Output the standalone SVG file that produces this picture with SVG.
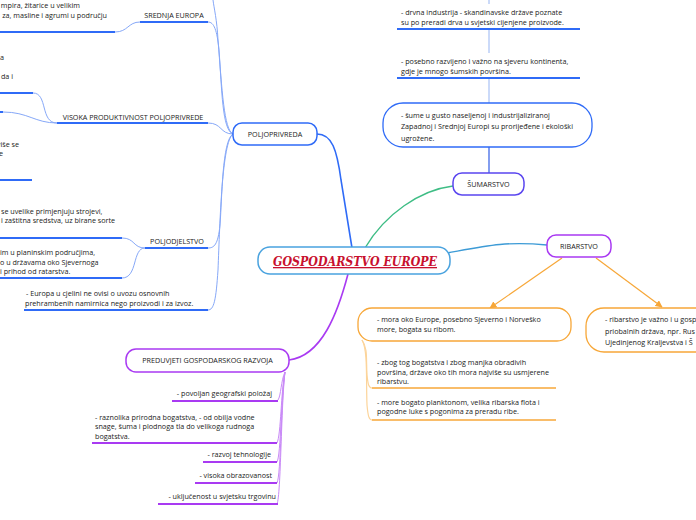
<svg xmlns="http://www.w3.org/2000/svg" width="696" height="520" viewBox="0 0 696 520">
<style>
.t{font-family:"Open Sans","Noto Sans",sans-serif;font-size:7.2px;fill:#1a1a1a}
.e{text-anchor:end}
.m{text-anchor:middle}
.ub{stroke:#2f6bf7;stroke-width:2;fill:none}
.cb{stroke:#86a8f8;stroke-width:1;fill:none}
.up{stroke:#a93af2;stroke-width:2;fill:none}
.cp{stroke:#c98af7;stroke-width:1;fill:none}
.uo{stroke:#f7a738;stroke-width:1.6;fill:none}
.co{stroke:#fcd49a;stroke-width:1.2;fill:none}
.vb{stroke:#a9c2f6;stroke-width:1.2;fill:none}
</style>
<defs>
<marker id="ao" viewBox="0 0 10 10" refX="9" refY="5" markerWidth="6" markerHeight="6" orient="auto">
<path d="M0,0 L10,5 L0,10 z" fill="#f7a738"/>
</marker>
</defs>
<rect width="696" height="520" fill="#ffffff"/>

<g id="connectors">
<path d="M317,134 C332,134 337,150 341,180 L352,248" stroke="#2f6bf7" stroke-width="1.6" fill="none"/>
<path d="M365,248 C385,214 420,190 453,186" stroke="#3ebd85" stroke-width="1.4" fill="none"/>
<path d="M447,253 C485,246 505,241 547,245" stroke="#3d9bd6" stroke-width="1.4" fill="none"/>
<path d="M348,274 C338,312 322,356 289,360" stroke="#a93af2" stroke-width="1.6" fill="none"/>
<path class="cb" d="M233,134 C224,130 222,90 218,40 C217,20 214,8 213,0"/>
<path class="cb" d="M233,134 C222,130 222,90 219,50 C217,30 214,22 208,22"/>
<path class="cb" d="M233,134 C220,134 222,123 208,123"/>
<path class="cb" d="M233,134 C222,140 222,200 220,225 C218,245 214,248 208,248"/>
<path class="cb" d="M233,134 C222,142 220,220 218,270 C216,300 214,310 208,310"/>
<path class="cb" d="M115,32 C128,32 128,22 140,22"/>
<path class="cb" d="M33,93 C48,93 40,123 57,123"/>
<path class="cb" d="M3,112 C28,112 35,123 57,123"/>
<path class="cb" d="M122,238 C135,238 133,248 145,248"/>
<path class="cb" d="M122,278 C138,278 132,248 145,248"/>
<path class="vb" d="M489,0 V4 M489,29 V53 M489,78 V103"/>
<path d="M489,147 V173" stroke="#4f74e8" stroke-width="1.4" fill="none"/>
<path d="M562,258 L490,308" stroke="#f7a738" stroke-width="1.2" fill="none" marker-end="url(#ao)"/>
<path d="M596,258 L662,307" stroke="#f7a738" stroke-width="1.2" fill="none" marker-end="url(#ao)"/>
<path class="co" d="M362,340 C368,348 366,360 367,375 C368,385 369,388 372,388"/>
<path class="co" d="M362,340 C368,350 366,380 367,405 C368,416 369,420 372,420"/>
<path class="cp" d="M285,372 C281,380 281,396 278,400"/>
<path class="cp" d="M285,372 C281,390 281,435 277,443"/>
<path class="cp" d="M285,372 C281,395 281,455 277,462"/>
<path class="cp" d="M285,372 C281,400 281,475 277,483"/>
<path class="cp" d="M285,372 C281,405 281,495 277,504"/>
</g>

<g id="central">
<rect x="258" y="247" width="192" height="27" rx="12" fill="#fff" stroke="#4aa3df" stroke-width="1.5"/>
<text x="355" y="266" text-anchor="middle" textLength="164" lengthAdjust="spacingAndGlyphs" font-family="'DejaVu Serif','Liberation Serif',serif" font-size="13" font-weight="bold" font-style="italic" text-decoration="underline" fill="#c8102e">GOSPODARSTVO EUROPE</text>
</g>

<g id="poljoprivreda">
<rect x="233" y="123" width="84" height="22" rx="9" fill="#fff" stroke="#2f6bf7" stroke-width="1.5"/>
<text class="t m" x="275" y="136.5">POLJOPRIVREDA</text>
</g>

<g id="srednja-europa">
<text class="t m" x="174" y="17.5">SREDNJA EUROPA</text>
<line class="ub" x1="140" y1="22" x2="208" y2="22"/>
</g>
<g id="srednja-child">
<text class="t e" x="80" y="7.5">mpira, žitarice u velikim</text>
<text class="t e" x="107" y="17.5">za, masline i agrumi u području</text>
<line class="ub" x1="0" y1="32" x2="115" y2="32"/>
</g>

<g id="visoka">
<text class="t m" x="133" y="119.5">VISOKA PRODUKTIVNOST POLJOPRIVREDE</text>
<line class="ub" x1="57" y1="123" x2="208" y2="123"/>
</g>
<g id="visoka-child-1">
<text class="t e" x="4" y="59.5">a</text>
<text class="t e" x="13" y="78.5">da i</text>
<line class="ub" x1="0" y1="93" x2="33" y2="93"/>
</g>
<g id="visoka-child-2">
<line class="ub" x1="0" y1="112" x2="3" y2="112"/>
</g>
<g id="left-node-3">
<text class="t e" x="19" y="146.5">više se</text>
<text class="t e" x="3" y="155.5">e</text>
<line class="ub" x1="0" y1="180" x2="32" y2="180"/>
</g>

<g id="poljodjelstvo">
<text class="t m" x="177" y="243.5">POLJODJELSTVO</text>
<line class="ub" x1="145" y1="248" x2="208" y2="248"/>
</g>
<g id="poljodjelstvo-child-1">
<text class="t" x="1" y="213.5">se uvelike primjenjuju strojevi,</text>
<text class="t" x="1" y="222.5">i zaštitna sredstva, uz birane sorte</text>
<line class="ub" x1="0" y1="238" x2="122" y2="238"/>
</g>
<g id="poljodjelstvo-child-2">
<text class="t" x="0" y="254.5">im u planinskim područjima,</text>
<text class="t" x="0" y="264.5">o u državama oko Sjevernoga</text>
<text class="t" x="0" y="273.5">i prihod od ratarstva.</text>
<line class="ub" x1="0" y1="278" x2="122" y2="278"/>
</g>

<g id="europa-cjelini">
<text class="t" x="26" y="295.5">- Europa u cjelini ne ovisi o uvozu osnovnih</text>
<text class="t" x="25" y="305.5">prehrambenih namirnica nego proizvodi i za izvoz.</text>
<line class="ub" x1="24" y1="310" x2="208" y2="310"/>
</g>

<g id="sumarstvo">
<rect x="453" y="173" width="71" height="22" rx="9" fill="#fff" stroke="#5a45ef" stroke-width="1.5"/>
<text class="t m" x="488.5" y="186.5">ŠUMARSTVO</text>
</g>
<g id="drvna">
<text class="t" x="401" y="14.5">- drvna industrija -  skandinavske države poznate</text>
<text class="t" x="401" y="24.5">su po preradi drva u svjetski cijenjene proizvode.</text>
<line class="ub" x1="397" y1="29" x2="580" y2="29"/>
</g>
<g id="posebno">
<text class="t" x="401" y="64">- posebno razvijeno i važno na sjeveru kontinenta,</text>
<text class="t" x="401" y="73.5">gdje je mnogo šumskih površina.</text>
<line class="ub" x1="397" y1="78" x2="580" y2="78"/>
</g>
<g id="sume">
<rect x="383" y="103" width="209" height="44" rx="20" fill="#fff" stroke="#2f6bf7" stroke-width="1.3"/>
<text class="t" x="401" y="117.5">- šume u gusto naseljenoj i industrijaliziranoj</text>
<text class="t" x="401" y="129">Zapadnoj i Srednjoj Europi su prorijeđene i ekološki</text>
<text class="t" x="401" y="140.5">ugrožene.</text>
</g>

<g id="ribarstvo">
<rect x="547" y="235" width="64" height="22" rx="9" fill="#fff" stroke="#a93af2" stroke-width="1.5"/>
<text class="t m" x="579" y="248.5">RIBARSTVO</text>
</g>
<g id="mora">
<rect x="358" y="308" width="213" height="33" rx="14" fill="#fff" stroke="#f7a738" stroke-width="1.3"/>
<text class="t" x="377" y="321.5">- mora oko Europe, posebno Sjeverno i Norveško</text>
<text class="t" x="377" y="332">more, bogata su ribom.</text>
</g>
<g id="ribarstvo-vazno">
<rect x="586" y="308" width="130" height="44" rx="18" fill="#fff" stroke="#f7a738" stroke-width="1.3"/>
<text class="t" x="605" y="321.5">- ribarstvo je važno i u gosp</text>
<text class="t" x="605" y="333.5">priobalnih država, npr. Rus</text>
<text class="t" x="605" y="345">Ujedinjenog Kraljevstva i Š</text>
</g>
<g id="zbog">
<text class="t" x="377" y="365">- zbog tog bogatstva i zbog manjka obradivih</text>
<text class="t" x="377" y="374.5">površina, države oko tih mora najviše su usmjerene</text>
<text class="t" x="377" y="384">ribarstvu.</text>
<line class="uo" x1="372" y1="388" x2="556" y2="388"/>
</g>
<g id="plankton">
<text class="t" x="377" y="404.5">- more bogato planktonom, velika ribarska flota i</text>
<text class="t" x="377" y="414">pogodne luke s pogonima za preradu ribe.</text>
<line class="uo" x1="372" y1="420" x2="556" y2="420"/>
</g>

<g id="preduvjeti">
<rect x="126" y="349" width="163" height="23" rx="10" fill="#fff" stroke="#a93af2" stroke-width="1.5"/>
<text class="t m" x="207.5" y="363">PREDUVJETI GOSPODARSKOG RAZVOJA</text>
</g>
<g id="polozaj">
<text class="t e" x="272" y="395.5">- povoljan geografski položaj</text>
<line class="up" x1="172" y1="401" x2="278" y2="401"/>
</g>
<g id="bogatstva">
<text class="t" x="95" y="419.5">- raznolika prirodna bogatstva, - od obilja vodne</text>
<text class="t" x="95" y="429">snage, šuma i plodnoga tla do velikoga rudnoga</text>
<text class="t" x="95" y="438.5">bogatstva.</text>
<line class="up" x1="92" y1="443" x2="277" y2="443"/>
</g>
<g id="tehnologija">
<text class="t e" x="271" y="456.5">- razvoj tehnologije</text>
<line class="up" x1="203" y1="462" x2="277" y2="462"/>
</g>
<g id="obrazovanost">
<text class="t e" x="272" y="477.5">- visoka obrazovanost</text>
<line class="up" x1="195" y1="483" x2="277" y2="483"/>
</g>
<g id="trgovina">
<text class="t e" x="276" y="498.5">- uključenost u svjetsku trgovinu</text>
<line class="up" x1="158" y1="504" x2="278" y2="504"/>
</g>
</svg>
